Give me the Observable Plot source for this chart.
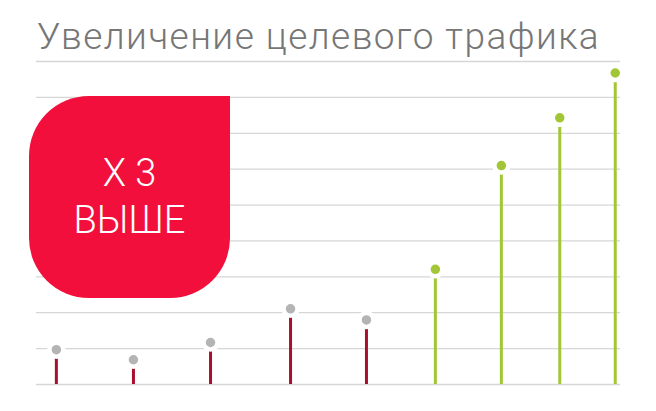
<!DOCTYPE html>
<html>
<head>
<meta charset="utf-8">
<script src="https://cdn.jsdelivr.net/npm/d3@7"></script>
<script src="https://cdn.jsdelivr.net/npm/@observablehq/plot@0.6"></script>
<style>
  html, body { margin: 0; padding: 0; background: #fff; }
  #wrap { position: relative; width: 656px; height: 411px; overflow: hidden; font-family: Roboto, "Noto Sans", sans-serif; }
  #title { position: absolute; left: 37px; top: 15px; font-size: 37px; line-height: 43px; font-weight: 300; letter-spacing: 1.45px; color: #767676; white-space: nowrap; }
  #chart { position: absolute; left: 0; top: 55px; }
  #badge { position: absolute; left: 29px; top: 96px; width: 201px; height: 202px; background: #f20f3b;
           border-radius: 60px 0 60px 60px; color: #fff; text-align: center; font-weight: 300; font-size: 38px; line-height: 47px; box-sizing: border-box; padding-top: 54px; }
</style>
</head>
<body>
<div id="wrap">
  <div id="title">Увеличение целевого трафика</div>
  <div id="chart"></div>
  <div id="badge"><div>X 3</div><div>ВЫШЕ</div></div>
</div>
<script>
// Data
const periods = [0.34, 1.66, 2.98, 4.35, 5.65, 6.83, 7.96, 8.96, 9.91];
const traffic = [97, 69, 117, 211, 180, 321, 610, 743, 868];
const phase = ["before", "before", "before", "before", "before", "after", "after", "after", "after"];
const gridTicks = [0, 100, 200, 300, 400, 500, 600, 700, 800, 900];

const data = periods.map((p, i) => ({period: p, value: traffic[i], phase: phase[i]}));
const stemColor = {before: "#a80f2e", after: "#a3c637"};
const dotColor = {before: "#b4b4b4", after: "#a3c637"};

const chart = Plot.plot({
  width: 656,
  height: 356,
  marginTop: 6,
  marginBottom: 27,
  marginLeft: 36,
  marginRight: 36,
  x: {domain: [0, 10], axis: null},
  y: {domain: [0, 900], axis: null},
  marks: [
    Plot.ruleY(gridTicks, {stroke: "#d6d6d6", strokeWidth: 1.3}),
    Plot.ruleX(data, {x: "period", y1: 0, y2: "value", stroke: d => stemColor[d.phase], strokeWidth: 3}),
    Plot.dot(data, {x: "period", y: "value", r: 7, fill: d => dotColor[d.phase], stroke: "white", strokeWidth: 4.5})
  ]
});
document.getElementById("chart").appendChild(chart);
</script>
</body>
</html>
